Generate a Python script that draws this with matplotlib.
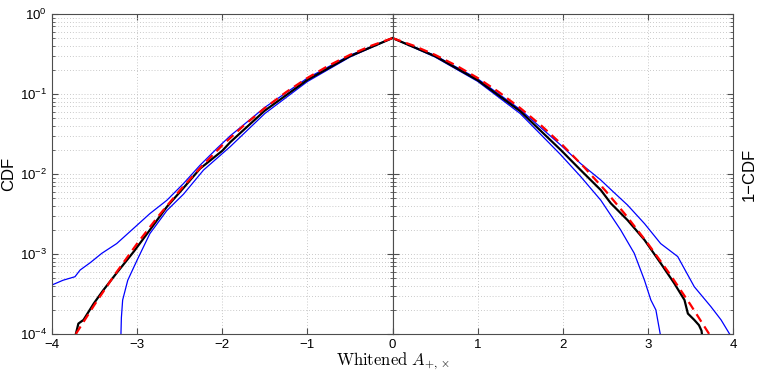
import numpy as np
import matplotlib
matplotlib.use("Agg")
import matplotlib.pyplot as plt
from matplotlib.ticker import LogLocator, FixedLocator, NullFormatter

# values (estimated by eye)
# negative side: CDF
x_gauss_neg = [-3.72, -3.5, -3.25, -3.0, -2.75, -2.5, -2.25, -2.0, -1.75, -1.5, -1.25, -1.0, -0.75, -0.5, -0.25, 0.0]
cdf_gauss = [1.0e-4, 2.33e-4, 5.77e-4, 1.35e-3, 2.98e-3, 6.21e-3, 1.22e-2, 2.28e-2, 4.01e-2, 6.68e-2, 0.1056, 0.1587, 0.2266, 0.3085, 0.4013, 0.5]

x_data_neg = [-3.72, -3.69, -3.63, -3.51, -3.40, -3.24, -3.04, -2.85, -2.65, -2.455, -2.26, -2.0, -1.906, -1.5, -1.0, -0.5, 0.0]
cdf_data = [1.0e-4, 1.35e-4, 1.5e-4, 2.4e-4, 3.5e-4, 5.8e-4, 1.07e-3, 2.0e-3, 3.9e-3, 6.7e-3, 1.17e-2, 1.95e-2, 2.5e-2, 0.062, 0.150, 0.297, 0.5]

x_up_neg = [-4.0, -3.87, -3.73, -3.67, -3.55, -3.415, -3.24, -3.04, -2.85, -2.65, -2.455, -2.26, -2.06, -1.906, -1.5, -1.0, -0.5, 0.0]
cdf_up = [4.1e-4, 4.7e-4, 5.2e-4, 6.3e-4, 7.8e-4, 1.02e-3, 1.35e-3, 2.1e-3, 3.2e-3, 4.7e-3, 7.6e-3, 1.29e-2, 2.1e-2, 3.0e-2, 0.068, 0.158, 0.305, 0.5]

x_lo_neg = [-3.19, -3.185, -3.17, -3.11, -3.0, -2.85, -2.65, -2.455, -2.22, -1.906, -1.5, -1.0, -0.5, 0.0]
cdf_lo = [1.0e-4, 1.6e-4, 2.66e-4, 4.7e-4, 8.4e-4, 1.8e-3, 3.5e-3, 5.6e-3, 1.12e-2, 2.2e-2, 0.057, 0.143, 0.29, 0.5]

# positive side: 1-CDF
x_gauss_pos = [0.0, 0.25, 0.5, 0.75, 1.0, 1.25, 1.5, 1.75, 2.0, 2.25, 2.5, 2.75, 3.0, 3.25, 3.5, 3.72]
ccdf_gauss = [0.5, 0.4013, 0.3085, 0.2266, 0.1587, 0.1056, 6.68e-2, 4.01e-2, 2.28e-2, 1.22e-2, 6.21e-3, 2.98e-3, 1.35e-3, 5.77e-4, 2.33e-4, 1.0e-4]

x_data_pos = [0.0, 0.5, 1.0, 1.5, 1.976, 2.21, 2.447, 2.565, 2.76, 2.96, 3.153, 3.31, 3.43, 3.47, 3.545, 3.60, 3.63, 3.635]
ccdf_data = [0.5, 0.297, 0.149, 0.061, 0.020, 0.0112, 6.3e-3, 4.3e-3, 2.66e-3, 1.5e-3, 7.6e-4, 4.3e-4, 2.66e-4, 1.8e-4, 1.5e-4, 1.29e-4, 1.1e-4, 1.0e-4]

x_up_pos = [0.0, 0.5, 1.0, 1.5, 1.976, 2.21, 2.447, 2.60, 2.76, 2.96, 3.15, 3.35, 3.545, 3.74, 3.86, 3.96]
ccdf_up = [0.5, 0.303, 0.155, 0.064, 0.023, 0.0135, 8.4e-3, 5.9e-3, 4.1e-3, 2.4e-3, 1.35e-3, 9.3e-4, 3.9e-4, 2.2e-4, 1.5e-4, 1.0e-4]

x_lo_pos = [0.0, 0.5, 1.0, 1.5, 1.976, 2.21, 2.447, 2.68, 2.84, 2.96, 3.035, 3.094, 3.145]
ccdf_lo = [0.5, 0.29, 0.144, 0.057, 0.0174, 9.3e-3, 4.7e-3, 2.0e-3, 1.02e-3, 4.7e-4, 2.66e-4, 2.0e-4, 1.0e-4]

xticks_neg = [-4, -3, -2, -1, 0]
xticks_pos = [0, 1, 2, 3, 4]
xticklabels_neg = ["\u22124", "\u22123", "\u22122", "\u22121", "0"]
xticklabels_pos = ["", "1", "2", "3", "4"]

plt.rcParams["font.family"] = ["Liberation Sans", "DejaVu Sans"]

fig = plt.figure(figsize=(7.63, 3.78), dpi=100)
left, bottom, width, height = 52 / 763, 1 - 334 / 378, 681 / 763, 320 / 378
ax1 = fig.add_axes([left, bottom, width / 2, height])
ax2 = fig.add_axes([left + width / 2, bottom, width / 2, height])

spine_col = "0.3"
for ax in (ax1, ax2):
    ax.set_yscale("log")
    ax.set_ylim(1e-4, 1)
    ax.yaxis.set_major_locator(LogLocator(base=10, numticks=10))
    ax.yaxis.set_minor_locator(LogLocator(base=10, subs=np.arange(2, 10), numticks=20))
    ax.grid(True, which="major", axis="both", linestyle=(0, (1, 2.5)), color="0.72", lw=0.6)
    ax.grid(True, which="minor", axis="y", linestyle=(0, (1, 2.5)), color="0.72", lw=0.6)
    ax.tick_params(which="both", direction="in", top=True, right=True, colors=spine_col, labelcolor="black", labelsize=9.5)
    ax.tick_params(which="major", length=4)
    ax.tick_params(which="minor", length=2)
    for s in ax.spines.values():
        s.set_color(spine_col)
        s.set_linewidth(0.8)

ax1.plot(x_up_neg, cdf_up, color="blue", lw=0.9)
ax1.plot(x_lo_neg, cdf_lo, color="blue", lw=0.9)
ax1.plot(x_data_neg, cdf_data, color="black", lw=1.6)
ax1.plot(x_gauss_neg, cdf_gauss, color="red", lw=1.6, dashes=(4, 2.5))
ax1.set_xlim(-4, 0)
ax1.xaxis.set_major_locator(FixedLocator(xticks_neg))
ax1.set_xticklabels(xticklabels_neg)
ax1.set_ylabel("CDF", fontsize=12, labelpad=3)

ax2.plot(x_up_pos, ccdf_up, color="blue", lw=0.9)
ax2.plot(x_lo_pos, ccdf_lo, color="blue", lw=0.9)
ax2.plot(x_data_pos, ccdf_data, color="black", lw=1.6)
ax2.plot(x_gauss_pos, ccdf_gauss, color="red", lw=1.6, dashes=(4, 2.5))
ax2.set_xlim(0, 4)
ax2.xaxis.set_major_locator(FixedLocator(xticks_pos))
ax2.set_xticklabels(xticklabels_pos)
ax2.yaxis.set_major_formatter(NullFormatter())
ax2.yaxis.set_minor_formatter(NullFormatter())
ax2.yaxis.set_label_position("right")
ax2.set_ylabel("1\u2212CDF", fontsize=12, labelpad=6)

fig.text(left + width / 2, 1 - 361 / 378, r"$\mathrm{Whitened}\ A_{+,\times}$", ha="center", va="center",
         fontsize=12, math_fontfamily="cm")

fig.savefig("out.png", dpi=100)
